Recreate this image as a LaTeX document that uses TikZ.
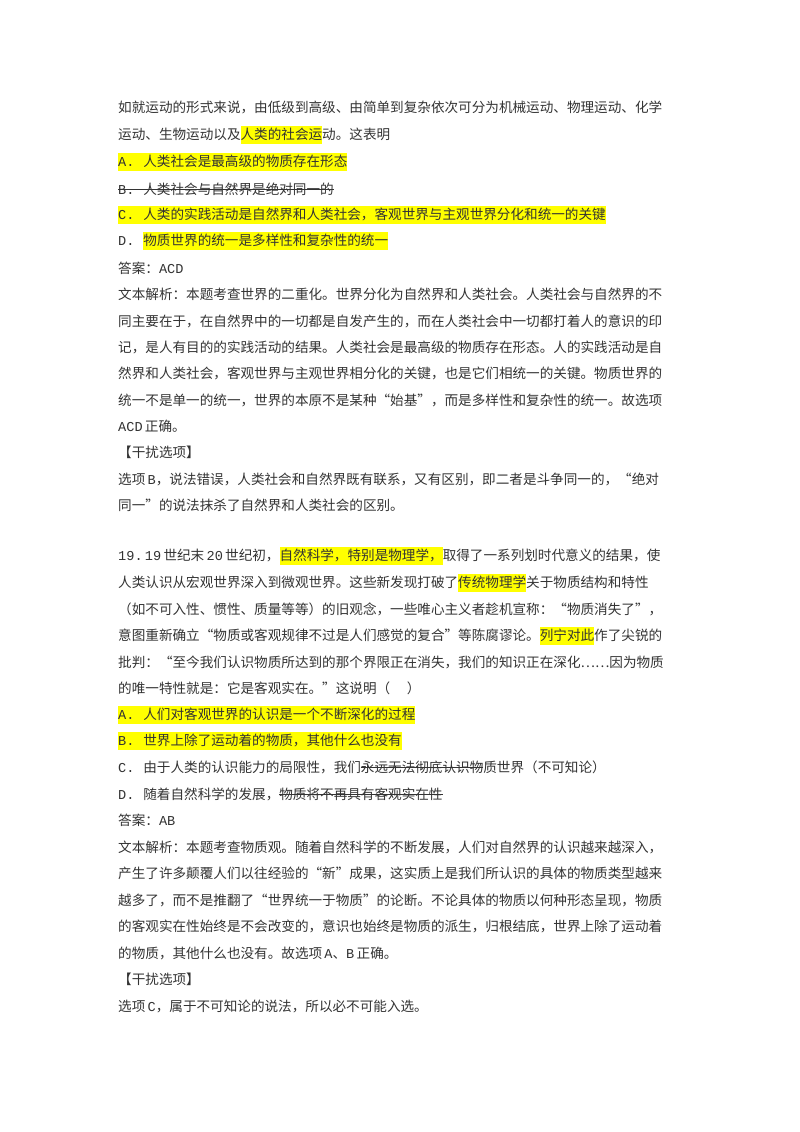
\documentclass[tikz,border=0pt]{standalone}
\usepackage{fontspec}
\setmainfont{Noto Sans CJK SC}
\newfontfamily\lat{Liberation Mono}
\definecolor{txt}{HTML}{333333}
\definecolor{hly}{HTML}{FFFF00}
\newcommand\hlx[1]{{\setlength\fboxsep{0pt}\colorbox{hly}{\rule[-0.32em]{0pt}{1.3em}#1}}}
\newcommand\strk[1]{\sbox0{#1}\rlap{\rule[0.33em]{\wd0}{0.6pt}}\usebox0}
\newcommand\opt[1]{{\lat #1.}\hspace{0.65em}}
\newcommand\la[1]{{\lat #1}}
\tikzset{ln/.style={anchor=west,inner sep=0pt,text=txt,font=\fontsize{13.6}{16}\selectfont}}
\begin{document}
\begin{tikzpicture}[x=1pt,y=-1pt]
\useasboundingbox (0,0) rectangle (800,1132);
\fill[white] (0,0) rectangle (800,1132);
\node[ln] (l1) at (118,107) {如就运动的形式来说，由低级到高级、由简单到复杂依次可分为机械运动、物理运动、化学};
\node[ln] (l2) at (118,135) {运动、生物运动以及\hlx{人类的社会运}动。这表明};
\node[ln] (l3) at (118,162) {\hlx{\opt{A}人类社会是最高级的物质存在形态}};
\node[ln] (l4) at (118,189) {\strk{\opt{B}人类社会与自然界是绝对同一的}};
\node[ln] (l5) at (118,215) {\hlx{\opt{C}人类的实践活动是自然界和人类社会，客观世界与主观世界分化和统一的关键}};
\node[ln] (l6) at (118,241) {\opt{D}\hlx{物质世界的统一是多样性和复杂性的统一}};
\node[ln] (l7) at (118,268) {答案：\la{ACD}};
\node[ln] (l8) at (118,294) {文本解析：本题考查世界的二重化。世界分化为自然界和人类社会。人类社会与自然界的不};
\node[ln] (l9) at (118,321) {同主要在于，在自然界中的一切都是自发产生的，而在人类社会中一切都打着人的意识的印};
\node[ln] (l10) at (118,347) {记，是人有目的的实践活动的结果。人类社会是最高级的物质存在形态。人的实践活动是自};
\node[ln] (l11) at (118,373) {然界和人类社会，客观世界与主观世界相分化的关键，也是它们相统一的关键。物质世界的};
\node[ln] (l12) at (118,400) {统一不是单一的统一，世界的本原不是某种“始基”，而是多样性和复杂性的统一。故选项};
\node[ln] (l13) at (118,426) {\la{ACD}\,正确。};
\node[ln] (l14) at (118,452) {【干扰选项】};
\node[ln] (l15) at (118,479) {选项\,\la{B}，说法错误，人类社会和自然界既有联系，又有区别，即二者是斗争同一的，“绝对};
\node[ln] (l16) at (118,505) {同一”的说法抹杀了自然界和人类社会的区别。};
\node[ln] (l17) at (118,556) {\la{19.}\,\la{19}\,世纪末\,\la{20}\,世纪初，\hlx{自然科学，特别是物理学，}取得了一系列划时代意义的结果，使};
\node[ln] (l18) at (118,583) {人类认识从宏观世界深入到微观世界。这些新发现打破了\hlx{传统物理学}关于物质结构和特性};
\node[ln] (l19) at (118,609) {（如不可入性、惯性、质量等等）的旧观念，一些唯心主义者趁机宣称：“物质消失了”，};
\node[ln] (l20) at (118,636) {意图重新确立“物质或客观规律不过是人们感觉的复合”等陈腐谬论。\hlx{列宁对此}作了尖锐的};
\node[ln] (l21) at (118,662) {批判：“至今我们认识物质所达到的那个界限正在消失，我们的知识正在深化……因为物质};
\node[ln] (l22) at (118,688) {的唯一特性就是：它是客观实在。”这说明（\quad\ ）};
\node[ln] (l23) at (118,715) {\hlx{\opt{A}人们对客观世界的认识是一个不断深化的过程}};
\node[ln] (l24) at (118,741) {\hlx{\opt{B}世界上除了运动着的物质，其他什么也没有}};
\node[ln] (l25) at (118,767) {\opt{C}由于人类的认识能力的局限性，我们\strk{永远无法彻底认识物}质世界（不可知论）};
\node[ln] (l26) at (118,794) {\opt{D}随着自然科学的发展，\strk{物质将不再具有客观实在性}};
\node[ln] (l27) at (118,820) {答案：\la{AB}};
\node[ln] (l28) at (118,847) {文本解析：本题考查物质观。随着自然科学的不断发展，人们对自然界的认识越来越深入，};
\node[ln] (l29) at (118,873) {产生了许多颠覆人们以往经验的“新”成果，这实质上是我们所认识的具体的物质类型越来};
\node[ln] (l30) at (118,900) {越多了，而不是推翻了“世界统一于物质”的论断。不论具体的物质以何种形态呈现，物质};
\node[ln] (l31) at (118,926) {的客观实在性始终是不会改变的，意识也始终是物质的派生，归根结底，世界上除了运动着};
\node[ln] (l32) at (118,953) {的物质，其他什么也没有。故选项\,\la{A}、\la{B}\,正确。};
\node[ln] (l33) at (118,979) {【干扰选项】};
\node[ln] (l34) at (118,1006) {选项\,\la{C}，属于不可知论的说法，所以必不可能入选。};
\end{tikzpicture}
\end{document}
